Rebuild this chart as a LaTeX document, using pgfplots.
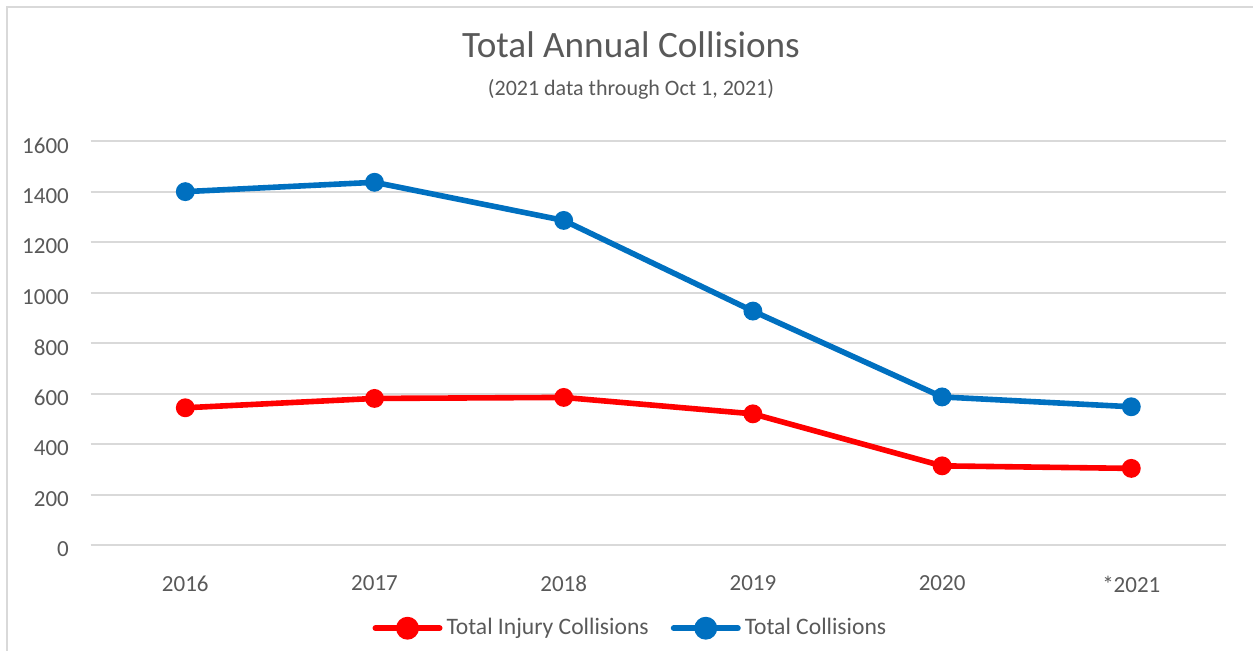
\documentclass[border=0pt]{standalone}
\usepackage{fontspec}
\setmainfont{Carlito}
\usepackage{pgfplots}
\pgfplotsset{compat=1.18}
\definecolor{txt}{HTML}{595959}
\definecolor{grd}{HTML}{D9D9D9}
\definecolor{cblue}{HTML}{0070C0}
\definecolor{cred}{HTML}{FF0000}
\begin{document}
\begin{tikzpicture}
\useasboundingbox (0,0) rectangle (626.5pt,-325.5pt);
\draw[grd, line width=1pt] (3.6pt,-330pt) -- (3.6pt,-3.6pt) -- (630pt,-3.6pt);
\node[txt, font=\fontsize{18.6}{22}\selectfont] at (315.5pt,-22.3pt) {Total Annual Collisions};
\node[txt, font=\fontsize{11}{13}\selectfont] at (315.5pt,-44.7pt) {(2021 data through Oct 1, 2021)};
\begin{axis}[
  at={(45.35pt,-272.7pt)}, anchor=south west,
  scale only axis, width=567.6pt, height=202pt,
  xmin=-0.5, xmax=5.5, ymin=0, ymax=1600,
  ytick={0,200,...,1600},
  xtick={0,1,2,3,4,5},
  xticklabels={2016,2017,2018,2019,2020,*2021},
  axis line style={draw=none},
  ymajorgrids, grid style={grd, line width=1pt},
  major tick length=0pt,
  tick label style={txt, font=\fontsize{11.5}{13}\selectfont},
  /pgf/number format/assume math mode=true,
  /pgf/number format/1000 sep={},
  yticklabel style={xshift=-7.4pt, yshift=-2pt},
  xticklabel style={yshift=-11.8pt},
  clip=false,
  legend columns=2,
  legend style={draw=none, fill=none, at={(0.4763,-0.205)}, anchor=center,
    font=\fontsize{11.8}{13}\selectfont, text=txt,
    /tikz/every even column/.append style={column sep=9pt},
    inner sep=0pt},
  legend image code/.code={
    \draw[#1, line width=3pt, line cap=round, mark=none] (0pt,0pt) -- (32pt,0pt);
    \fill[#1] (16pt,0pt) circle (4.3pt);
  },
]
\addplot[cred, line width=2.8pt, mark=*, mark size=3.3pt, mark options={solid, fill=cred, draw=none}]
  coordinates {(0,545) (1,582) (2,586) (3,521) (4,315) (5,305)};
\addlegendentry{Total Injury Collisions}
\addplot[cblue, line width=2.8pt, mark=*, mark size=3.3pt, mark options={solid, fill=cblue, draw=none}]
  coordinates {(0,1401) (1,1438) (2,1287) (3,928) (4,588) (5,549)};
\addlegendentry{Total Collisions}
\end{axis}
\end{tikzpicture}
\end{document}
